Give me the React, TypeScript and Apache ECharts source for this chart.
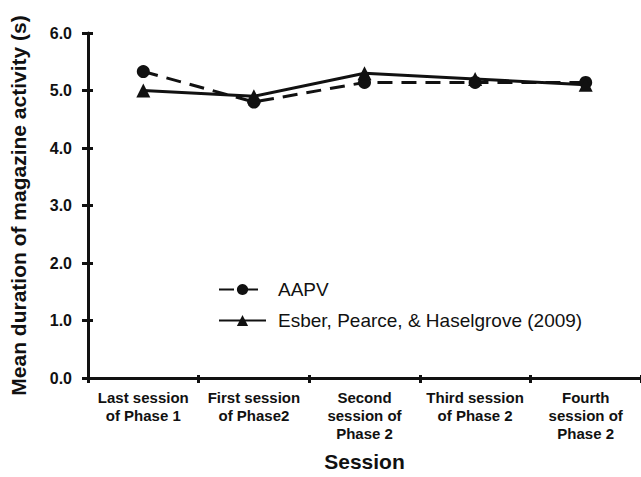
import React, { useEffect, useRef } from "react";
import * as echarts from "echarts";

const categories = [
  "Last session\nof Phase 1",
  "First session\nof Phase2",
  "Second\nsession of\nPhase 2",
  "Third session\nof Phase 2",
  "Fourth\nsession of\nPhase 2",
];
const aapv = [5.33, 4.8, 5.14, 5.14, 5.14];
const esber = [5.0, 4.9, 5.3, 5.2, 5.1];
const seriesNames = ["AAPV", "Esber, Pearce, & Haselgrove (2009)"];
const yAxisName = "Mean duration of magazine activity (s)";
const xAxisName = "Session";

const FONT = "'Liberation Sans', Arial, Helvetica, sans-serif";
const INK = "#111";

export default function App() {
  const ref = useRef<HTMLDivElement>(null);
  useEffect(() => {
    if (!ref.current) return;
    const chart = echarts.init(ref.current, undefined, { renderer: "svg" });
    chart.setOption({
      animation: false,
      backgroundColor: "#fff",
      textStyle: { fontFamily: FONT, color: INK },
      grid: { left: 88, right: -4, top: 33, bottom: 95, containLabel: false },
      legend: {
        orient: "vertical",
        left: 213,
        top: 275,
        itemWidth: 47,
        itemHeight: 14,
        itemGap: 12,
        data: seriesNames,
        textStyle: {
          fontFamily: FONT,
          fontSize: 19,
          color: INK,
          lineHeight: 19,
          padding: [0, 0, 0, 7],
        },
      },
      xAxis: [
        {
          type: "category",
          data: categories,
          boundaryGap: true,
          axisLine: { lineStyle: { color: INK, width: 3 } },
          axisTick: { show: true, length: 5, lineStyle: { color: INK, width: 3 } },
          axisLabel: {
            color: INK,
            fontFamily: FONT,
            fontWeight: "bold",
            fontSize: 15,
            lineHeight: 18,
            margin: 10,
            interval: 0,
          },
          name: xAxisName,
          nameLocation: "middle",
          nameGap: 73,
          nameTextStyle: {
            color: INK,
            fontFamily: FONT,
            fontWeight: "bold",
            fontSize: 21,
            lineHeight: 21,
          },
        },
        {
          type: "category",
          data: categories,
          position: "bottom",
          boundaryGap: true,
          axisLine: { show: false },
          axisTick: { show: true, inside: true, length: 3, lineStyle: { color: INK, width: 3 } },
          axisLabel: { show: false },
        },
      ],
      yAxis: [
        {
          type: "value",
          min: 0,
          max: 6,
          interval: 1,
          axisLine: { show: true, lineStyle: { color: INK, width: 3 } },
          axisTick: { show: true, length: 6, lineStyle: { color: INK, width: 3 } },
          splitLine: { show: false },
          axisLabel: {
            color: INK,
            fontFamily: FONT,
            fontWeight: "bold",
            fontSize: 16,
            margin: 16,
            formatter: (v: number) => v.toFixed(1),
          },
          name: yAxisName,
          nameLocation: "middle",
          nameGap: 59,
          nameTextStyle: {
            color: INK,
            fontFamily: FONT,
            fontWeight: "bold",
            fontSize: 21,
          },
        },
        {
          type: "value",
          min: 0,
          max: 6,
          interval: 1,
          position: "left",
          axisLine: { show: false },
          axisTick: { show: true, inside: true, length: 5, lineStyle: { color: INK, width: 3 } },
          splitLine: { show: false },
          axisLabel: { show: false },
        },
      ],
      series: [
        {
          name: seriesNames[0],
          type: "line",
          data: aapv,
          symbol: "circle",
          symbolSize: 13,
          itemStyle: { color: INK },
          lineStyle: { color: INK, width: 3, type: [15, 9] },
          z: 3,
        },
        {
          name: seriesNames[1],
          type: "line",
          data: esber,
          symbol: "triangle",
          symbolSize: 14,
          itemStyle: { color: INK },
          lineStyle: { color: INK, width: 3, type: "solid" },
          z: 4,
        },
      ],
    });
    return () => chart.dispose();
  }, []);
  return (
    <div
      ref={ref}
      style={{ position: "fixed", left: 0, top: 0, width: 641, height: 477 }}
    />
  );
}
